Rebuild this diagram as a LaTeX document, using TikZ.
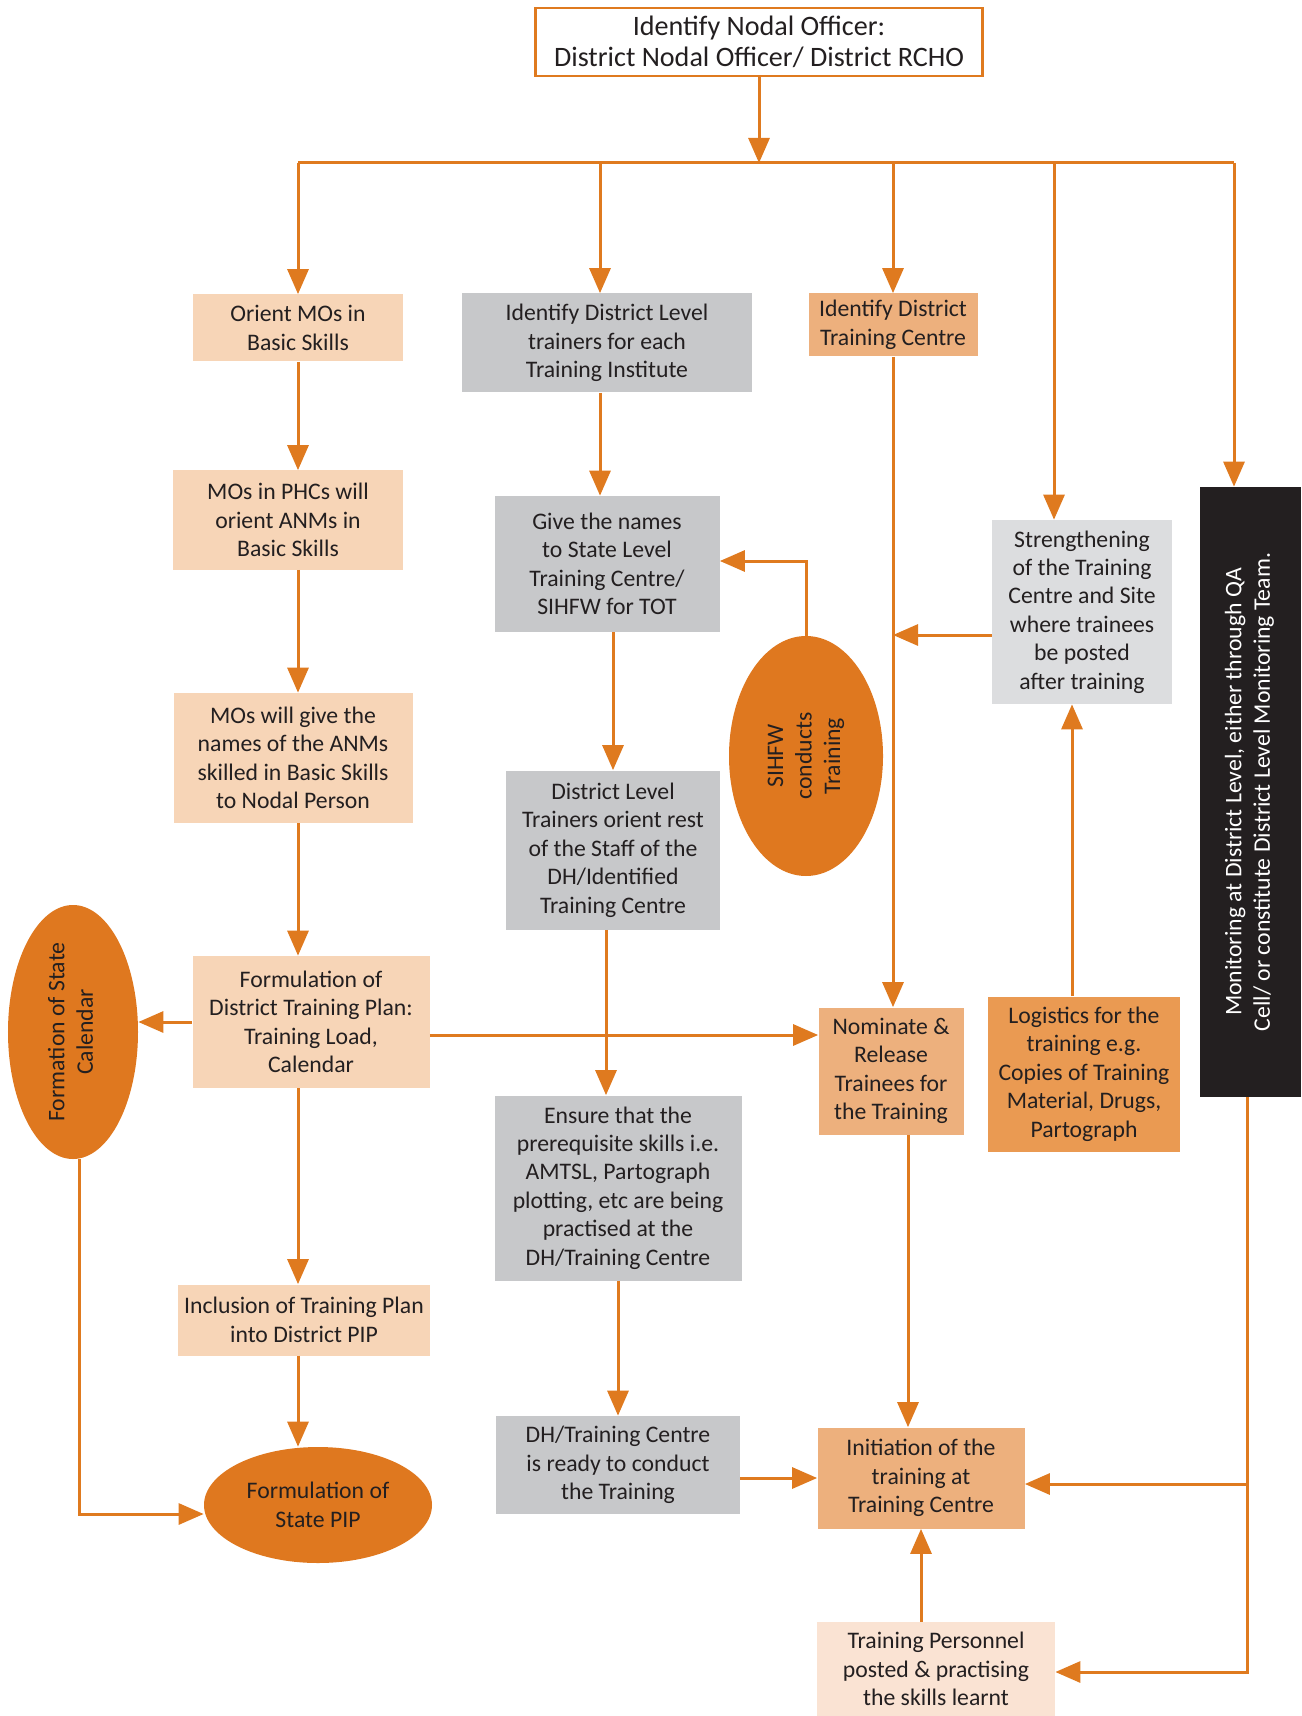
\documentclass[tikz,border=0pt]{standalone}
\usepackage{fontspec}
\setmainfont{Carlito}
\usepackage{tikz}
\usetikzlibrary{arrows.meta,calc,positioning,shapes.geometric}
\definecolor{flowline}{HTML}{DF7A1F}
\definecolor{peachbox}{HTML}{F7D5B7}
\definecolor{midorange}{HTML}{EDB07D}
\definecolor{deeporange}{HTML}{EA9A52}
\definecolor{graybox}{HTML}{C7C8CA}
\definecolor{lightgraybox}{HTML}{DCDDDF}
\definecolor{palepeach}{HTML}{FAE3D3}
\definecolor{ovalfill}{HTML}{DF781F}
\definecolor{inkdark}{HTML}{231F20}
\newcommand{\vtext}[1]{\rotatebox{90}{\begin{tabular}{@{}c@{}}#1\end{tabular}}}

\begin{document}
\begin{tikzpicture}[x=0.2mm,y=-0.2mm,>={Triangle[length=5mm,width=4.2mm]},
  stepbox/.style={inner sep=0pt,align=center,text=inkdark,font=\fontsize{13.5}{16.2}\selectfont},
  oval/.style={stepbox,ellipse,fill=ovalfill},
  flow/.style={->,draw=flowline,line width=0.6mm},
  bus/.style={draw=flowline,line width=0.6mm}]
  \useasboundingbox (0,0) rectangle (1301,1716);
  % top of the chart
  \node[stepbox,draw=flowline,line width=0.5mm,fill=white,minimum width=89.4mm,minimum height=13.6mm,
        font=\fontsize{16}{17.8}\selectfont] (top) at (759,42) {Identify Nodal Officer:\\District Nodal Officer/ District RCHO};
  \coordinate (busL) at (298,163);
  \coordinate (busR) at (1234,163);
  \coordinate (colA) at (298,0);
  % boxes
  \node[stepbox,fill=peachbox,minimum width=42mm,minimum height=13.4mm] (orient) at (298,328) {Orient MOs in\\Basic Skills};
  \node[stepbox,fill=graybox,minimum width=58mm,minimum height=19.8mm] (identtr) at (607,343) {Identify District Level\\trainers for each\\Training Institute};
  \node[stepbox,fill=midorange,minimum width=33.8mm,minimum height=12.6mm] (identtc) at (893,325) {Identify District\\Training Centre};
  \node[stepbox,fill=peachbox,minimum width=46mm,minimum height=19.8mm] (phc) at (288,520) {MOs in PHCs will\\orient ANMs in\\Basic Skills};
  \node[stepbox,fill=graybox,minimum width=45mm,minimum height=27.2mm] (givenames) at (607,564) {Give the names\\to State Level\\Training Centre/\\SIHFW for TOT};
  \node[stepbox,fill=lightgraybox,minimum width=36mm,minimum height=36.8mm] (strength) at (1082,612) {Strengthening\\of the Training\\Centre and Site\\where trainees\\be posted\\after training};
  \node[stepbox,fill=inkdark,text=white,minimum width=20.2mm,minimum height=122mm] (monitor) at (1250,792)
       {\vtext{Monitoring at District Level, either through QA\\Cell/ or constitute District Level Monitoring Team.}};
  \node[oval,minimum width=30.8mm,minimum height=48mm] (sihfw) at (806,756) {\vtext{SIHFW\\conducts\\Training}};
  \node[stepbox,fill=peachbox,minimum width=47.8mm,minimum height=26mm] (mosnames) at (293,758) {MOs will give the\\names of the ANMs\\skilled in Basic Skills\\to Nodal Person};
  \node[stepbox,fill=graybox,minimum width=42.8mm,minimum height=31.8mm] (dlt) at (613,850) {District Level\\Trainers orient rest\\of the Staff of the\\DH/Identified\\Training Centre};
  \node[oval,minimum width=26mm,minimum height=50.8mm] (calendar) at (73,1032) {\vtext{Formation of State\\Calendar}};
  \node[stepbox,fill=peachbox,minimum width=47.4mm,minimum height=26.4mm] (plan) at (311,1022) {Formulation of\\District Training Plan:\\Training Load,\\Calendar};
  \node[stepbox,fill=midorange,minimum width=29mm,minimum height=25.4mm] (nominate) at (891,1071) {Nominate \&\\Release\\Trainees for\\the Training};
  \node[stepbox,fill=deeporange,minimum width=38.4mm,minimum height=31mm] (logistics) at (1084,1074) {Logistics for the\\training e.g.\\Copies of Training\\Material, Drugs,\\Partograph};
  \node[stepbox,fill=graybox,minimum width=49.4mm,minimum height=37mm] (ensure) at (618,1188) {Ensure that the\\prerequisite skills i.e.\\AMTSL, Partograph\\plotting, etc are being\\practised at the\\DH/Training Centre};
  \node[stepbox,fill=peachbox,minimum width=50.4mm,minimum height=14.2mm] (inclusion) at (304,1320) {Inclusion of Training Plan\\into District PIP};
  \node[stepbox,fill=graybox,minimum width=48.8mm,minimum height=19.6mm] (ready) at (618,1465) {DH/Training Centre\\is ready to conduct\\the Training};
  \node[stepbox,fill=midorange,minimum width=41.4mm,minimum height=20.2mm] (initiation) at (921,1478) {Initiation of the\\training at\\Training Centre};
  \node[oval,minimum width=45.6mm,minimum height=23.2mm] (statepip) at (318,1505) {Formulation of\\State PIP};
  \node[stepbox,fill=palepeach,minimum width=47.6mm,minimum height=18.8mm] (personnel) at (936,1669) {Training Personnel\\posted \& practising\\the skills learnt};
  % connectors
  \draw[flow] (top.south) -- (top.south |- busL);
  \draw[bus] (busL) -- (busR);
  \draw[flow] (busL) -- (orient.north);
  \draw[flow] ($(identtr.north)+(-7,0)$) coordinate (tn) (tn |- busL) -- (tn);
  \draw[flow] (identtc.north |- busL) -- (identtc.north);
  \draw[flow] ($(strength.north)+(-28,0)$) coordinate (sn) (sn |- busL) -- (sn);
  \draw[flow] (busR) -- (busR |- monitor.north);
  \draw[flow] (orient.south -| colA) -- (phc.north -| colA);
  \draw[flow] (phc.south -| colA) -- (mosnames.north -| colA);
  \draw[flow] (mosnames.south -| colA) -- (plan.north -| colA);
  \draw[flow] (plan.south -| colA) -- (inclusion.north -| colA);
  \draw[flow] (inclusion.south -| colA) -- (statepip.north -| colA);
  \draw[flow] (plan.west) -- (plan.west -| calendar.east);
  \draw[flow] ($(calendar.south)+(6,0)$) |- ($(statepip.west)+(0,9)$);
  \draw[flow] ($(plan.east)+(0,13)$) coordinate (pj) -- (pj -| nominate.west);
  \draw[flow] ($(identtr.south)+(-7,0)$) coordinate (ts) -- (ts |- givenames.north);
  \draw[flow] (givenames.south -| dlt.north) -- (dlt.north);
  \draw[flow] ($(dlt.south)+(-7,0)$) coordinate (ds) -- (ds |- ensure.north);
  \draw[flow] (ensure.south) -- (ready.north);
  \draw[flow] (initiation.west -| ready.east) -- (initiation.west);
  \draw[flow] (sihfw.north) |- ($(givenames.east)+(0,-3)$);
  \draw[flow] (identtc.south) -- (identtc.south |- nominate.north);
  \draw[flow] ($(strength.west)+(0,23)$) coordinate (sw) -- (sw -| identtc.south);
  \draw[flow] ($(logistics.north)+(-12,0)$) coordinate (ln) -- (ln |- strength.south);
  \draw[flow] ($(nominate.south)+(17,0)$) coordinate (ns) -- (ns |- initiation.north);
  \draw[flow] (initiation.south |- personnel.north) -- (initiation.south);
  \draw[flow] ($(monitor.south)+(-3,0)$) coordinate (ms) |- ($(personnel.east)+(0,3)$);
  \draw[flow] ($(initiation.east)+(0,6)$) coordinate (ie) (ie -| ms) -- (ie);
\end{tikzpicture}
\end{document}
